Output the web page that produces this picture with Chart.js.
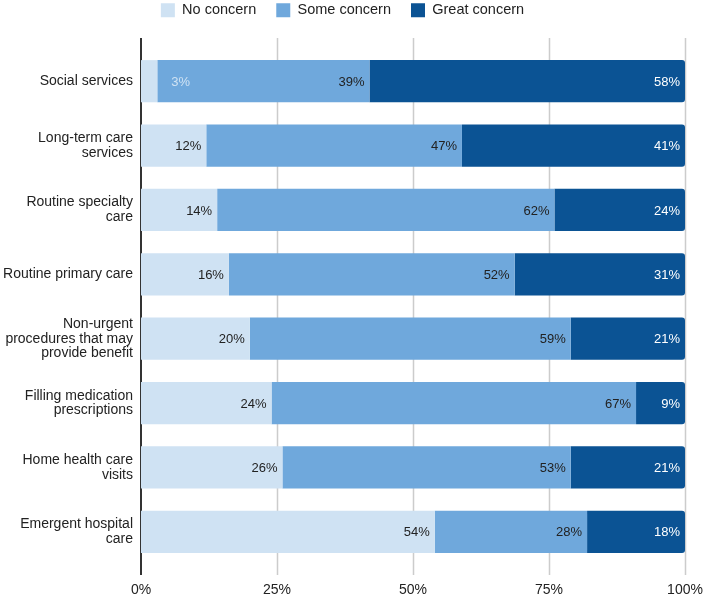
<!DOCTYPE html>
<html>
<head>
<meta charset="utf-8">
<script src="https://cdn.jsdelivr.net/npm/chart.js@4.4.1/dist/chart.umd.min.js"></script>
<style>
  html, body { margin: 0; padding: 0; background: #fff; }
  #wrap { width: 705px; height: 597px; }
</style>
</head>
<body>
<div id="wrap"><canvas id="chart" width="705" height="597"></canvas></div>
<script>
// --- DATA ---
const categories = [
    'Social services',
    ['Long-term care', 'services'],
    ['Routine specialty', 'care'],
    'Routine primary care',
    ['Non-urgent', 'procedures that may', 'provide benefit'],
    ['Filling medication', 'prescriptions'],
    ['Home health care', 'visits'],
    ['Emergent hospital', 'care']
];
const seriesNames = ['No concern', 'Some concern', 'Great concern'];
const noConcern = [3, 12, 14, 16, 20, 24, 26, 54];
const someConcern = [39, 47, 62, 52, 59, 67, 53, 28];
const greatConcern = [58, 41, 24, 31, 21, 9, 21, 18];
const xTicks = [0, 25, 50, 75, 100];

// --- STYLE ---
const FONT = "'Liberation Sans', Arial, Helvetica, sans-serif";
const TEXT = '#222222';
const colors = ['#cfe2f3', '#6fa8dc', '#0b5394'];
const labelColors = ['#222222', '#222222', '#ffffff'];

const raw = [noConcern, someConcern, greatConcern];
const totals = noConcern.map((v, i) => v + someConcern[i] + greatConcern[i]);
const share = arr => arr.map((v, i) => v / totals[i] * 100);

// grid lines and axis line reaching a little past the bands
const gridPlugin = {
    id: 'gridPlugin',
    beforeDatasetsDraw(chart) {
        const { ctx, chartArea, scales } = chart;
        const top = chartArea.top - 11, bottom = chartArea.bottom + 11;
        ctx.save();
        xTicks.forEach(t => {
            if (t === 0) return;
            const x = Math.round(scales.x.getPixelForValue(t)) + 0.5;
            ctx.strokeStyle = '#cccccc';
            ctx.lineWidth = 1.5;
            ctx.beginPath(); ctx.moveTo(x, top); ctx.lineTo(x, bottom); ctx.stroke();
        });
        const x0 = scales.x.getPixelForValue(0);
        ctx.strokeStyle = '#333333';
        ctx.lineWidth = 2;
        ctx.beginPath(); ctx.moveTo(x0, top); ctx.lineTo(x0, bottom); ctx.stroke();
        ctx.restore();
    }
};

// value labels at the end of each segment
const valueLabels = {
    id: 'valueLabels',
    afterDatasetsDraw(chart) {
        const { ctx } = chart;
        ctx.save();
        ctx.font = `13px ${FONT}`;
        ctx.textBaseline = 'middle';
        chart.data.datasets.forEach((ds, di) => {
            chart.getDatasetMeta(di).data.forEach((bar, i) => {
                const txt = raw[di][i] + '%';
                const w = ctx.measureText(txt).width;
                if (bar.x - bar.base >= w + 10) {
                    ctx.textAlign = 'right';
                    ctx.fillStyle = labelColors[di];
                    ctx.fillText(txt, bar.x - 5, bar.y + 1);
                } else {
                    ctx.textAlign = 'left';
                    ctx.fillStyle = colors[di];
                    ctx.fillText(txt, bar.x + 14, bar.y + 1);
                }
            });
        });
        ctx.restore();
    }
};

// fixed legend height
const legendSpace = {
    id: 'legendSpace',
    beforeInit(chart) {
        const fit = chart.legend.fit;
        chart.legend.fit = function () {
            fit.call(this);
            this.height = 66;
        };
    }
};

new Chart(document.getElementById('chart'), {
    type: 'bar',
    data: {
        labels: categories,
        datasets: seriesNames.map((name, i) => ({
            label: name,
            data: share(raw[i]),
            backgroundColor: colors[i],
            borderWidth: 0,
            borderRadius: i === 2 ? { topRight: 3, bottomRight: 3 } : 0,
            borderSkipped: false,
            categoryPercentage: 1,
            barPercentage: 0.655
        }))
    },
    options: {
        indexAxis: 'y',
        responsive: false,
        animation: false,
        layout: { autoPadding: false, padding: { top: -17, right: 20, left: 0, bottom: 0 } },
        plugins: {
            legend: {
                position: 'top',
                labels: {
                    boxWidth: 14,
                    boxHeight: 14,
                    padding: 20,
                    color: TEXT,
                    font: { family: FONT, size: 14.5 }
                }
            },
            tooltip: { enabled: false }
        },
        scales: {
            x: {
                stacked: true,
                min: 0,
                max: 100,
                grid: { display: false, drawTicks: false },
                border: { display: false },
                afterBuildTicks: s => { s.ticks = xTicks.map(v => ({ value: v })); },
                afterFit: s => { s.height = 33; s.paddingLeft = 0; s.paddingRight = 0; },
                ticks: {
                    padding: 18,
                    color: TEXT,
                    font: { family: FONT, size: 14 },
                    callback: v => v + '%'
                }
            },
            y: {
                stacked: true,
                grid: { display: false, drawTicks: false },
                border: { display: false },
                afterFit: s => { s.width = 141; },
                ticks: {
                    padding: 8,
                    color: TEXT,
                    font: { family: FONT, size: 14, lineHeight: 1.05 }
                }
            }
        }
    },
    plugins: [gridPlugin, valueLabels, legendSpace]
});
</script>
</body>
</html>
